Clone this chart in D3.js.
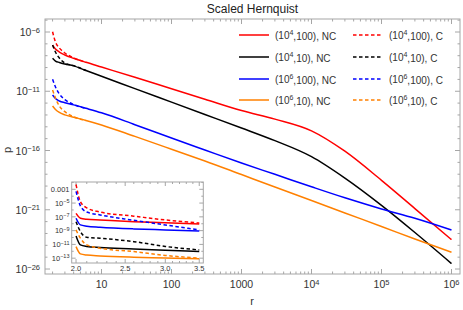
<!DOCTYPE html>
<html>
<head>
<meta charset="utf-8">
<script src="https://cdn.jsdelivr.net/npm/d3@7"></script>
<style>
  body { margin: 0; background: #fff; }
  svg { font-family: "Liberation Sans", Arial, sans-serif; }
</style>
</head>
<body>
<svg id="chart" width="463" height="310"></svg>
<script>
// values, stored as log10(p)
const rMain = [2, 2.2, 2.5, 3, 4, 6, 10, 30, 100, 300, 1e3, 3e3, 1e4, 3e4, 1e5, 3e5, 1e6];
const red100NC = [-7.10, -7.44, -7.69, -7.94, -8.22, -8.56, -8.96, -9.82, -10.79, -11.67, -12.63, -13.35, -14.34, -16.06, -18.52, -20.90, -23.52];
const black10NC = [-8.22, -8.45, -8.57, -8.70, -8.86, -9.25, -9.73, -10.78, -11.92, -12.96, -14.10, -15.17, -16.52, -18.33, -20.63, -22.92, -25.54];
const blue100NC = [-11.32, -11.61, -11.82, -11.97, -12.15, -12.44, -12.82, -13.82, -14.95, -15.96, -17.06, -18.01, -19.06, -19.99, -20.93, -21.72, -22.71];
const orange10NC = [-12.25, -12.54, -12.79, -12.99, -13.19, -13.46, -13.84, -14.81, -15.89, -16.88, -18.03, -19.08, -20.22, -21.27, -22.41, -23.47, -24.59];

const rDash = [2, 2.2, 2.5, 3, 4, 6];
const red100C = [-5.98, -6.84, -7.35, -7.77, -8.18, -8.56];
const black10C = [-7.10, -7.69, -8.20, -8.62, -8.84, -9.25];
const blue100C = [-9.99, -10.64, -11.23, -11.70, -12.12, -12.44];
const orange10C = [-10.90, -11.57, -12.25, -12.72, -13.15, -13.46];

// inset, 2 <= r <= 3.5
const rInset = [2.0, 2.04, 2.1, 2.23, 2.6, 3.0, 3.5];
const insetRedNC = [-6.5, -7.2, -7.35, -7.45, -7.7, -7.85, -8.03];
const insetRedC = [-2.3, -4.8, -5.7, -6.3, -6.9, -7.45, -7.9];
const insetBlueNC = [-7.2, -8.17, -8.35, -8.5, -8.75, -8.9, -9.04];
const insetBlueC = [-3.3, -5.4, -6.3, -6.72, -7.5, -8.17, -8.9];
const insetBlackNC = [-9.77, -11.07, -11.3, -11.46, -11.65, -11.85, -12.04];
const insetBlackC = [-7.7, -9.14, -9.96, -10.1, -10.6, -11.3, -11.8];
const insetOrangeNC = [-11.32, -12.38, -12.55, -12.67, -12.86, -12.98, -13.1];
const insetOrangeC = [-8.9, -10.1, -11.07, -11.55, -12.04, -12.6, -13.0];

const legendExp = ["4", "4", "6", "6"];
const legendSecond = ["100", "10", "100", "10"];
const colors = ["#ff0000", "#000000", "#0000ff", "#ff8000"];

const xMajor = [1, 2, 3, 4, 5, 6];          // exponents for 10^k
const xLabels = ["10", "100", "1000", "10^4", "10^5", "10^6"];
const yMajor = [-6, -11, -16, -21, -26];
const insetXMajor = [2.0, 2.5, 3.0, 3.5];
const insetYMajor = [-3, -5, -7, -9, -11, -13];
const insetYLabels = ["0.001", "10^-5", "10^-7", "10^-9", "10^-11", "10^-13"];

const svg = d3.select('#chart');
const frameColor = '#a6a6a6';
const labelColor = '#333';

const m = { left: 45, right: 460, top: 19, bottom: 274 };
const x = d3.scaleLog().domain([1.559, 1.3226e6]).range([m.left, m.right]);
const y = d3.scaleLog().domain([Math.pow(10, -4.903), Math.pow(10, -26.42)]).range([m.top, m.bottom]);

function pts(rs, vs) {
    return rs.map((r, i) => ({ r: r, p: Math.pow(10, vs[i]) }));
}

// write "10^k" style text with superscript
function powText(sel, s, supSize) {
    const parts = s.split('^');
    sel.append('tspan').text(parts[0]);
    if (parts.length > 1) {
        sel.append('tspan')
            .attr('dy', '-0.45em')
            .attr('font-size', supSize)
            .text(parts[1].replace('-', '\u2212'));
    }
}

svg.append('clipPath').attr('id', 'clipMain')
    .append('rect').attr('x', m.left).attr('y', m.top)
    .attr('width', m.right - m.left).attr('height', m.bottom - m.top);

// main frame ticks
const gAxes = svg.append('g');
const xMinor = [];
for (let k = 0; k <= 6; k++) {
    for (let j = 2; j <= 9; j++) {
        const v = j * Math.pow(10, k);
        if (v > 1.559 && v < 1.3226e6) xMinor.push(v);
    }
}
xMinor.forEach(v => {
    gAxes.append('line').attr('x1', x(v)).attr('x2', x(v))
        .attr('y1', m.bottom).attr('y2', m.bottom - 2.5).attr('stroke', frameColor);
    gAxes.append('line').attr('x1', x(v)).attr('x2', x(v))
        .attr('y1', m.top).attr('y2', m.top + 2.5).attr('stroke', frameColor);
});
xMajor.forEach((k, i) => {
    const v = Math.pow(10, k);
    gAxes.append('line').attr('x1', x(v)).attr('x2', x(v))
        .attr('y1', m.bottom).attr('y2', m.bottom - 5).attr('stroke', frameColor);
    gAxes.append('line').attr('x1', x(v)).attr('x2', x(v))
        .attr('y1', m.top).attr('y2', m.top + 5).attr('stroke', frameColor);
    const t = gAxes.append('text')
        .attr('x', x(v)).attr('y', 288)
        .attr('text-anchor', 'middle')
        .attr('font-size', 10.5).attr('fill', labelColor);
    powText(t, xLabels[i], 7.5);
});

for (let e = -5; e >= -26; e--) {
    const isMajor = yMajor.includes(e);
    const len = isMajor ? 5 : 2.5;
    const yy = y(Math.pow(10, e));
    gAxes.append('line').attr('x1', m.left).attr('x2', m.left + len)
        .attr('y1', yy).attr('y2', yy).attr('stroke', frameColor);
    gAxes.append('line').attr('x1', m.right).attr('x2', m.right - len)
        .attr('y1', yy).attr('y2', yy).attr('stroke', frameColor);
    if (isMajor) {
        const t = gAxes.append('text')
            .attr('x', 40).attr('y', yy + 4)
            .attr('text-anchor', 'end')
            .attr('font-size', 10.5).attr('fill', labelColor);
        powText(t, '10^' + e, 7.5);
    }
}

svg.append('rect')
    .attr('x', m.left).attr('y', m.top)
    .attr('width', m.right - m.left).attr('height', m.bottom - m.top)
    .attr('fill', 'none').attr('stroke', frameColor);

// main curves
const line = d3.line()
    .x(d => x(d.r))
    .y(d => y(d.p))
    .curve(d3.curveMonotoneX);

const gLines = svg.append('g').attr('clip-path', 'url(#clipMain)');
[red100NC, black10NC, blue100NC, orange10NC].forEach((s, i) => {
    gLines.append('path').datum(pts(rMain, s))
        .attr('d', line).attr('fill', 'none')
        .attr('stroke', colors[i]).attr('stroke-width', 1.5);
});
[red100C, black10C, blue100C, orange10C].forEach((s, i) => {
    gLines.append('path').datum(pts(rDash, s))
        .attr('d', line).attr('fill', 'none')
        .attr('stroke', colors[i]).attr('stroke-width', 1.5)
        .attr('stroke-dasharray', '3.5,2.5');
});

// title and axis labels
svg.append('text').attr('x', (m.left + m.right) / 2).attr('y', 13)
    .attr('text-anchor', 'middle').attr('font-size', 12).attr('fill', '#222')
    .text('Scaled Hernquist');
svg.append('text').attr('x', 252).attr('y', 305)
    .attr('text-anchor', 'middle').attr('font-size', 11).attr('fill', labelColor)
    .text('r');
svg.append('text').attr('transform', 'translate(11,150) rotate(-90)')
    .attr('text-anchor', 'middle').attr('font-size', 11).attr('fill', labelColor)
    .text('p');

// legend
const legendY = [35, 57, 79, 100];
legendExp.forEach((ex, i) => {
    const yy = legendY[i];
    svg.append('line').attr('x1', 239).attr('x2', 269)
        .attr('y1', yy).attr('y2', yy)
        .attr('stroke', colors[i]).attr('stroke-width', 1.5);
    const t1 = svg.append('text').attr('x', 275).attr('y', yy + 3.5)
        .attr('font-size', 10).attr('fill', labelColor);
    t1.append('tspan').text('(10');
    t1.append('tspan').attr('dy', '-0.45em').attr('font-size', 7).text(ex);
    t1.append('tspan').attr('dy', '0.45em').text(',' + legendSecond[i] + '), NC');

    svg.append('line').attr('x1', 353).attr('x2', 381)
        .attr('y1', yy).attr('y2', yy)
        .attr('stroke', colors[i]).attr('stroke-width', 1.5)
        .attr('stroke-dasharray', '3.5,2.5');
    const t2 = svg.append('text').attr('x', 389).attr('y', yy + 3.5)
        .attr('font-size', 10).attr('fill', labelColor);
    t2.append('tspan').text('(10');
    t2.append('tspan').attr('dy', '-0.45em').attr('font-size', 7).text(ex);
    t2.append('tspan').attr('dy', '0.45em').text(',' + legendSecond[i] + '), C');
});

// inset
const im = { left: 71.7, right: 203.3, top: 182, bottom: 263 };
const ix = d3.scaleLog().domain([1.961, 3.565]).range([im.left, im.right]);
const iy = d3.scaleLog().domain([Math.pow(10, -1.94), Math.pow(10, -13.7)]).range([im.top, im.bottom]);

svg.append('rect')
    .attr('x', im.left).attr('y', im.top)
    .attr('width', im.right - im.left).attr('height', im.bottom - im.top)
    .attr('fill', '#fff');

svg.append('clipPath').attr('id', 'clipInset')
    .append('rect').attr('x', im.left).attr('y', im.top)
    .attr('width', im.right - im.left).attr('height', im.bottom - im.top);

const gInset = svg.append('g');
d3.range(20, 36).map(v => v / 10).forEach(v => {
    const major = insetXMajor.some(t => Math.abs(t - v) < 1e-9);
    const len = major ? 4 : 2;
    gInset.append('line').attr('x1', ix(v)).attr('x2', ix(v))
        .attr('y1', im.bottom).attr('y2', im.bottom - len).attr('stroke', frameColor);
    gInset.append('line').attr('x1', ix(v)).attr('x2', ix(v))
        .attr('y1', im.top).attr('y2', im.top + len).attr('stroke', frameColor);
    if (major) {
        gInset.append('text').attr('x', ix(v)).attr('y', 271)
            .attr('text-anchor', 'middle').attr('font-size', 7.5).attr('fill', labelColor)
            .text(v.toFixed(1));
    }
});
for (let e = -2; e >= -13; e--) {
    const idx = insetYMajor.indexOf(e);
    const len = idx >= 0 ? 4 : 2;
    const yy = iy(Math.pow(10, e));
    gInset.append('line').attr('x1', im.left).attr('x2', im.left + len)
        .attr('y1', yy).attr('y2', yy).attr('stroke', frameColor);
    gInset.append('line').attr('x1', im.right).attr('x2', im.right - len)
        .attr('y1', yy).attr('y2', yy).attr('stroke', frameColor);
    if (idx >= 0) {
        const t = gInset.append('text').attr('x', 69.5).attr('y', yy + 2.7)
            .attr('text-anchor', 'end').attr('font-size', 7.5).attr('fill', labelColor);
        powText(t, insetYLabels[idx], 5.5);
    }
}
svg.append('rect')
    .attr('x', im.left).attr('y', im.top)
    .attr('width', im.right - im.left).attr('height', im.bottom - im.top)
    .attr('fill', 'none').attr('stroke', frameColor);

const iline = d3.line()
    .x(d => ix(d.r))
    .y(d => iy(d.p))
    .curve(d3.curveMonotoneX);

const gInsetLines = svg.append('g').attr('clip-path', 'url(#clipInset)');
[insetRedNC, insetBlackNC, insetBlueNC, insetOrangeNC].forEach((s, i) => {
    gInsetLines.append('path').datum(pts(rInset, s))
        .attr('d', iline).attr('fill', 'none')
        .attr('stroke', colors[i]).attr('stroke-width', 1.5);
});
[insetRedC, insetBlackC, insetBlueC, insetOrangeC].forEach((s, i) => {
    gInsetLines.append('path').datum(pts(rInset, s))
        .attr('d', iline).attr('fill', 'none')
        .attr('stroke', colors[i]).attr('stroke-width', 1.5)
        .attr('stroke-dasharray', '3.5,2.5');
});
</script>
</body>
</html>
